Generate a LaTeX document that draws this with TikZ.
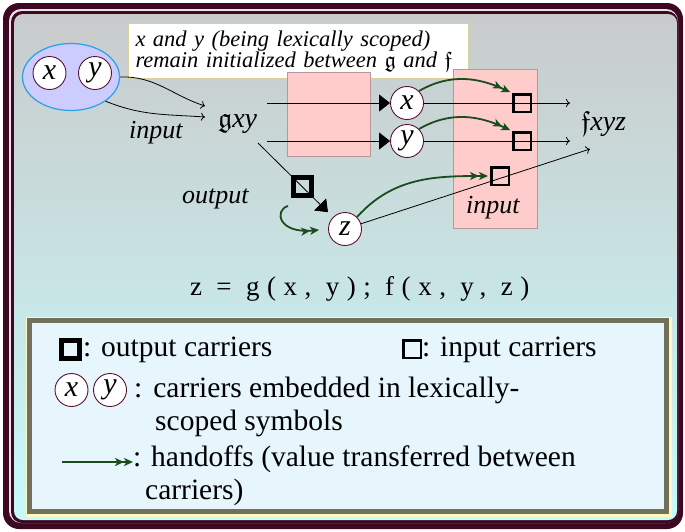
\documentclass[tikz,border=0pt]{standalone}
\usepackage{fontspec}
\setmainfont{Liberation Serif}
\newfontfamily\eqfont[LetterSpace=28]{Liberation Serif}
\usetikzlibrary{arrows.meta,shapes.geometric}
\DeclareFontFamily{U}{myeuf}{}
\DeclareFontShape{U}{myeuf}{m}{n}{<-> eufm10}{}
\newcommand\fk[1]{{\usefont{U}{myeuf}{m}{n}#1}}
\definecolor{framec}{RGB}{60,8,34}
\definecolor{framelight}{RGB}{236,226,232}
\definecolor{bgtop}{RGB}{201,203,203}
\definecolor{bgbot}{RGB}{200,250,251}
\definecolor{pinkf}{RGB}{255,204,204}
\definecolor{pinkb}{RGB}{185,150,155}
\definecolor{ellf}{RGB}{204,204,255}
\definecolor{elld}{RGB}{40,160,240}
\definecolor{circb}{RGB}{90,16,48}
\definecolor{hgreen}{RGB}{26,77,30}
\definecolor{noteb}{RGB}{216,210,160}
\definecolor{legf}{RGB}{230,246,252}
\definecolor{legg}{RGB}{112,112,92}
\definecolor{legy}{RGB}{255,248,192}
\tikzset{
  carrier/.style={circle, draw=circb, fill=white, line width=0.9pt, minimum size=33pt, inner sep=0pt, font=\fontsize{30}{30}\selectfont\itshape},
  insq/.style={rectangle, draw=black, line width=2.5pt, minimum size=17.5pt, inner sep=0pt},
  outsq/.style={rectangle, draw=black, line width=5pt, minimum size=18pt, inner sep=0pt},
  hand/.style={draw=hgreen, line width=1.8pt, -{Stealth[length=9pt,width=8pt,inset=2.5pt]Stealth[length=9pt,width=8pt,inset=2.5pt]}},
  thinarr/.style={draw=black, line width=0.8pt, -{To[length=4pt,width=8pt]}},
  tri/.style={draw=black, line width=0.8pt, -{Triangle[length=11pt,width=17pt]}},
  pinkbox/.style={draw=pinkb, fill=pinkf, line width=0.8pt},
  lbl/.style={inner sep=0pt, font=\fontsize{26}{26}\selectfont\itshape},
  fkl/.style={inner sep=0pt, font=\fontsize{28}{28}\selectfont},
  legtxt/.style={inner sep=0pt, anchor=base west, font=\fontsize{29.5}{29.5}\selectfont},
  notebox/.style={draw=noteb, fill=white, line width=1pt, anchor=north west, minimum width=340pt, minimum height=54pt, text width=326pt, inner sep=7pt, align=left, font=\fontsize{22.5}{18.5}\selectfont\itshape},
  grpell/.style={ellipse, draw=elld, fill=ellf, line width=1.2pt, minimum width=97pt, minimum height=67pt, inner sep=0pt},
}
\begin{document}
\begin{tikzpicture}[x=1pt,y=-1pt]
\useasboundingbox (0,0) rectangle (685,531);
% frame
\fill[framec, rounded corners=16pt] (3,3) rectangle (683,529);
\fill[framelight, rounded corners=12pt] (9,9) rectangle (678,523);
\fill[framec, rounded corners=11pt] (11,11) rectangle (678,523);
\shade[top color=bgtop, bottom color=bgbot, rounded corners=9pt] (14,14) rectangle (677,520);
% note box
\node[notebox] (note) at (128,23) {x and y (being lexically scoped)\\ remain initialized between \upshape\fk{g} \itshape and \upshape\fk{f}};
% pink regions
\draw[pinkbox] (287,72) rectangle (370,156);
\draw[pinkbox] (453,69) rectangle (537,228);
% group ellipse with carriers
\node[grpell] (grp) at (71,77) {};
\node[carrier] (ax) at (49.5,73) {x};
\node[carrier] (ay) at (95,73) {y};
% labels
\node[lbl, anchor=base west] (inl) at (129,138) {input};
\node[lbl, anchor=base west] (outl) at (182,203) {output};
\node[lbl, anchor=base west] (inl2) at (466,213) {input};
\node[fkl, anchor=base west] (g) at (218,127) {\fk{g}\itshape xy};
\node[fkl, anchor=base west] (f) at (581,130) {\fk{f}\itshape xyz};
% coordinates
\coordinate (gin1) at (205,106);
\coordinate (gin2) at (205,117);
\coordinate (gx1) at (267,103);
\coordinate (gx2) at (267,141);
\coordinate (gd) at (258,143);
\coordinate (ex) at (570,103);
\coordinate (ey) at (570,141);
\coordinate (ez) at (590,149);
\coordinate (lps) at (288,206);
% carriers
\node[carrier] (cx) at (407,103) {x};
\node[carrier] (cy) at (407,141) {y};
\node[carrier] (cz) at (345,229) {z};
% arrows from group
\draw[thinarr] (grp.east) to[out=2,in=162] (gin1);
\draw[thinarr] (grp.-35) to[out=-22,in=176] (gin2);
% lines
\draw[tri] (gx1) -- (cx);
\draw[tri] (gx2) -- (cy);
\draw[tri, shorten >=7pt] (gd) -- (cz);
\draw[thinarr] (cx) -- (ex);
\draw[thinarr] (cy) -- (ey);
\draw[thinarr] (cz) -- (ez);
% squares
\node[insq] (sx) at (522,103) {};
\node[insq] (sy) at (522,141) {};
\node[insq] (sz) at (500,176) {};
\node[outsq] (os) at (302,186) {};
% handoffs
\draw[hand, shorten >=2pt] (cx.north east) to[out=30,in=155] (sx.north west);
\draw[hand, shorten >=2pt] (cy.north east) to[out=30,in=155] (sy.north west);
\draw[hand, shorten >=2pt] (cz.north east) to[out=48,in=180] (sz.west);
\draw[hand, shorten >=9pt] (lps) .. controls (274,210) and (278,234) .. (cz.west);
% equation
\node[inner sep=0pt, anchor=base west, font=\eqfont\fontsize{27}{27}\selectfont] (eq) at (190,295) {z = g(x, y); f(x, y, z)};
% legend box
\draw[legy, line width=6.5pt] (29,320) rectangle (669,514);
\draw[legg, fill=legf, line width=4.5pt] (29.5,320.5) rectangle (666.5,511.5);
\node[outsq] (lo) at (70.5,349.5) {};
\node[legtxt] (lot) at (83,356) {: output carriers};
\node[insq] (li) at (412,349) {};
\node[legtxt] (lit) at (422,356) {: input carriers};
\node[carrier] (lx) at (71.5,390) {x};
\node[carrier] (ly) at (110,390) {y};
\node[legtxt] (lct) at (134,397) {:\hspace{11pt}carriers embedded in lexically-};
\node[legtxt] (lct2) at (155,430) {scoped symbols};
\coordinate (lh) at (62,462);
\node[legtxt] (lht) at (133,466) {: handoffs (value transferred between};
\node[legtxt] (lht2) at (145,499) {carriers)};
\draw[hand] (lh) -- (lh -| lht.west);
\end{tikzpicture}
\end{document}
